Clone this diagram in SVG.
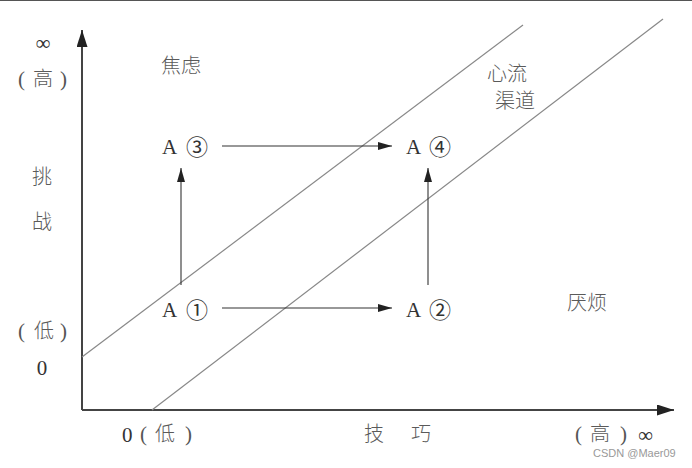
<svg xmlns="http://www.w3.org/2000/svg" width="692" height="468" viewBox="0 0 692 468">
<defs>
<style>
.cn{font-family:"Noto Sans CJK SC","Liberation Serif",serif;font-size:20px;fill:#5a5a5a;font-weight:300}
.lt{font-family:"Liberation Serif","Noto Sans CJK SC",serif;font-size:21px;fill:#333}
.pa{font-family:"Liberation Serif",serif;font-size:21px;fill:#555}
.ci{font-family:"Noto Sans CJK SC","DejaVu Sans",serif;font-size:22px;fill:#333;font-weight:400}
.ax{stroke:#444;stroke-width:2;fill:none}
.diag{stroke:#888;stroke-width:1.2;fill:none}
.ar{stroke:#333;stroke-width:1.1;fill:none}
.wm{font-family:"Liberation Sans",Arial,sans-serif;font-size:11px;fill:#999}
</style>
<marker id="ah" viewBox="0 0 14 8" refX="14" refY="4" markerWidth="14" markerHeight="8" markerUnits="userSpaceOnUse" orient="auto">
<path d="M0,0 L14,4 L0,8 Z" fill="#222"/>
</marker>
<marker id="axh" viewBox="0 0 17 11" refX="17" refY="5.5" markerWidth="17" markerHeight="11" markerUnits="userSpaceOnUse" orient="auto">
<path d="M0,0 L17,5.5 L0,11 Z" fill="#222"/>
</marker>
</defs>
<rect width="692" height="468" fill="#fff"/>
<line x1="0" y1="0.5" x2="692" y2="0.5" stroke="#555" stroke-width="1"/>
<g id="axes">
<path class="ax" d="M82,410 L82,30" marker-end="url(#axh)"/>
<path class="ax" d="M82,410 L674,410" marker-end="url(#axh)"/>
</g>
<g id="channel">
<line class="diag" x1="82" y1="357" x2="523" y2="25"/>
<line class="diag" x1="152" y1="410" x2="663" y2="19"/>
</g>
<g id="connectors">
<path class="ar" d="M222,146 L392,146" marker-end="url(#ah)"/>
<path class="ar" d="M222,308 L392,308" marker-end="url(#ah)"/>
<path class="ar" d="M181,285 L181,168" marker-end="url(#ah)"/>
<path class="ar" d="M428,285 L428,168" marker-end="url(#ah)"/>
</g>
<g id="A1"><text class="lt" x="162" y="317">A</text><text class="ci" x="186" y="318">①</text></g>
<g id="A2"><text class="lt" x="406" y="317">A</text><text class="ci" x="429" y="318">②</text></g>
<g id="A3"><text class="lt" x="162" y="154">A</text><text class="ci" x="186" y="155">③</text></g>
<g id="A4"><text class="lt" x="406" y="154">A</text><text class="ci" x="429" y="155">④</text></g>
<g id="labels">
<text class="lt" x="43" y="50" text-anchor="middle">∞</text>
<text class="pa" x="18" y="86">(</text><text class="cn" x="33" y="86">高</text><text class="pa" x="60" y="86">)</text>
<text class="cn" x="42" y="184" text-anchor="middle">挑</text>
<text class="cn" x="42" y="229" text-anchor="middle">战</text>
<text class="pa" x="18" y="338">(</text><text class="cn" x="34" y="338">低</text><text class="pa" x="60" y="338">)</text>
<text class="lt" x="42" y="375" text-anchor="middle">0</text>
<text class="lt" x="122" y="442">0</text>
<text class="pa" x="140" y="441">(</text><text class="cn" x="155" y="441">低</text><text class="pa" x="185" y="441">)</text>
<text class="cn" x="364" y="441">技</text>
<text class="cn" x="411" y="441">巧</text>
<text class="pa" x="575" y="441">(</text><text class="cn" x="590" y="441">高</text><text class="pa" x="620" y="441">)</text>
<text class="lt" x="638" y="442">∞</text>
<text class="cn" x="161" y="73">焦虑</text>
<text class="cn" x="487" y="81">心流</text>
<text class="cn" x="495" y="108">渠道</text>
<text class="cn" x="567" y="310">厌烦</text>
<text class="wm" x="593" y="457">CSDN @Maer09</text>
</g>
</svg>
